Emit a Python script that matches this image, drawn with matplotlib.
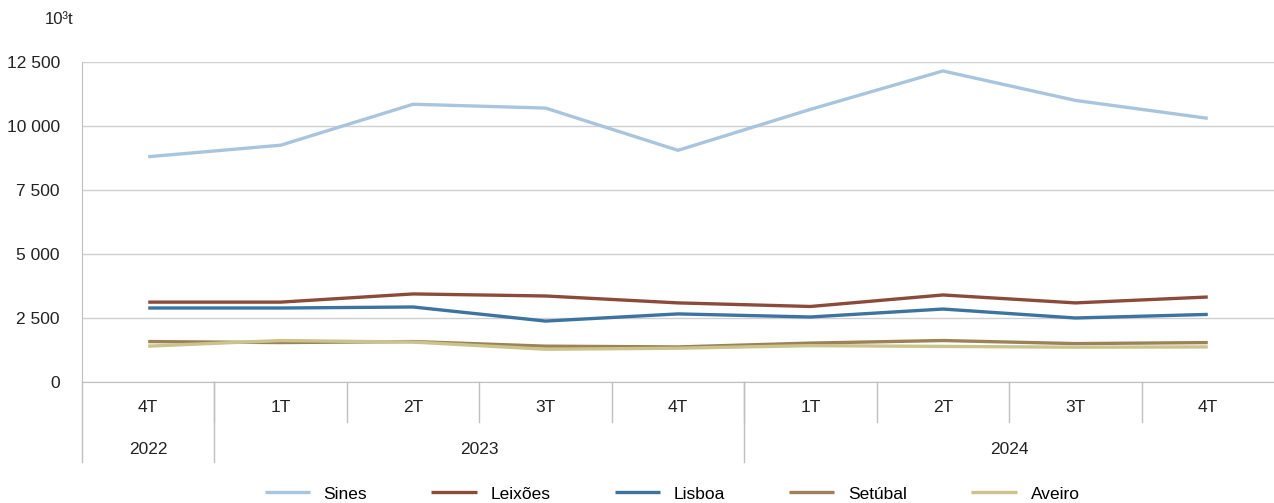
import matplotlib.pyplot as plt
import matplotlib.transforms as mtransforms
from matplotlib.ticker import FuncFormatter

plt.rcParams['font.family'] = ['Liberation Sans', 'DejaVu Sans']

quarters = ['4T', '1T', '2T', '3T', '4T', '1T', '2T', '3T', '4T']
years = ['2022', '2023', '2024']
year_spans = [(0, 0), (1, 4), (5, 8)]

sines = [8800, 9250, 10850, 10700, 9050, 10650, 12150, 11000, 10300]
leixoes = [3120, 3120, 3440, 3360, 3090, 2950, 3400, 3090, 3320]
lisboa = [2890, 2890, 2930, 2380, 2660, 2540, 2850, 2500, 2640]
setubal = [1580, 1540, 1580, 1400, 1370, 1520, 1620, 1500, 1540]
aveiro = [1400, 1620, 1560, 1280, 1320, 1420, 1390, 1360, 1370]

series = [('Sines', sines, '#a9c5de'),
          ('Leixões', leixoes, '#8c4b3a'),
          ('Lisboa', lisboa, '#3d73a0'),
          ('Setúbal', setubal, '#9c8257'),
          ('Aveiro', aveiro, '#cbc38c')]

fig = plt.figure(figsize=(12.74, 5.03), dpi=100)
ax = fig.add_axes([82 / 1274, 121 / 503, 1 - 82 / 1274, 320 / 503])

x = list(range(len(quarters)))
for name, vals, col in series:
    ax.plot(x, vals, color=col, lw=2.4, label=name, solid_capstyle='butt')

ax.set_xlim(-0.5, len(quarters) - 0.5)
ax.set_ylim(0, 12500)
ax.set_yticks(range(0, 12501, 2500))
ax.yaxis.set_major_formatter(FuncFormatter(lambda v, p: f'{int(v):,}'.replace(',', ' ')))
ax.tick_params(axis='y', length=0, pad=16, labelsize=12.5, colors='#222222')
ax.set_xticks([])
ax.grid(axis='y', color='#d0d0d0', lw=1)
ax.set_axisbelow(True)
for s in ['top', 'right']:
    ax.spines[s].set_visible(False)
ax.spines['left'].set_color('#bfbfbf')
ax.spines['bottom'].set_color('#bfbfbf')
ax.spines['left'].set_bounds(0, 12500)

# two-level category axis
tr = mtransforms.blended_transform_factory(ax.transData, ax.transAxes)
for i, q in enumerate(quarters):
    ax.text(i, -0.081, q, transform=tr, ha='center', va='center', fontsize=12.5, color='#222222')
    if i > 0:
        ax.plot([i - 0.5, i - 0.5], [0, -0.125], transform=tr, color='#bfbfbf', lw=1, clip_on=False)
for (a, b), yr in zip(year_spans, years):
    ax.text((a + b) / 2, -0.2125, yr, transform=tr, ha='center', va='center', fontsize=12.5, color='#222222')
    ax.plot([a - 0.5, a - 0.5], [0, -0.25], transform=tr, color='#bfbfbf', lw=1, clip_on=False)

fig.text(45 / 1274, 1 - 20 / 503, '10³t', fontsize=12, va='center', color='#222222')

fig.legend(loc='center', bbox_to_anchor=(672 / 1274, 1 - 494 / 503), ncol=5, frameon=False,
           fontsize=12.5, handlelength=2.6, columnspacing=3.7, handletextpad=0.8)

fig.savefig('out.png', dpi=100)
